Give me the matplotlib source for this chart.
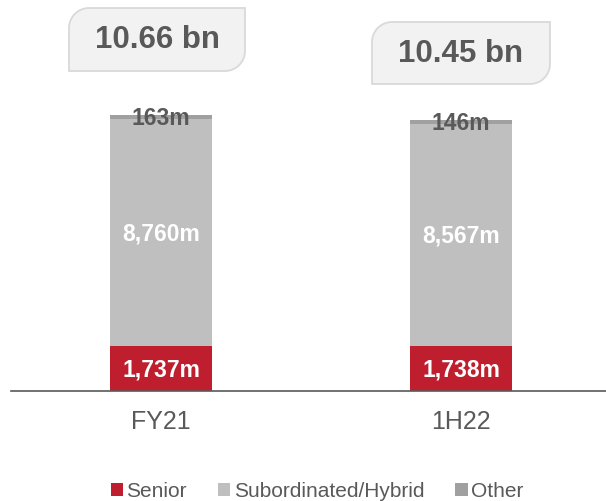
import matplotlib
matplotlib.use("Agg")
import matplotlib.pyplot as plt
from matplotlib.patches import Patch, PathPatch
from matplotlib.path import Path

plt.rcParams['font.family'] = ['Liberation Sans', 'DejaVu Sans']

# data (millions)
periods = ['FY21', '1H22']
senior = [1737, 1738]
subordinated = [8760, 8567]
other = [163, 146]

series_names = ['Senior', 'Subordinated/Hybrid', 'Other']
colors = ['#BE1E2D', '#BFBFBF', '#A0A0A0']
dark = '#595959'

W, H = 606, 502
fig = plt.figure(figsize=(W / 100, H / 100), dpi=100)
ax = fig.add_axes([11 / W, 1 - 392 / H, 1 - 11 / W, 392 / H])

x = list(range(len(periods)))
bw = 0.34
bottom = [0] * len(x)
for vals, col in zip([senior, subordinated, other], colors):
    ax.bar(x, vals, bw, bottom=bottom, color=col, linewidth=0, zorder=2)
    for i, v in enumerate(vals):
        lbl_col = dark if vals is other else 'white'
        ax.text(i, bottom[i] + v / 2, f"{v:,}m", ha='center', va='center',
                fontsize=16.5, fontweight='bold', color=lbl_col, zorder=3)
    bottom = [b + v for b, v in zip(bottom, vals)]

ax.set_xlim(-0.5, 1.4833)
ax.set_ylim(0, 15140)
ax.axhline(0, color=dark, lw=1.2, zorder=4, clip_on=False)
for s in ax.spines.values():
    s.set_visible(False)
ax.set_yticks([])
ax.set_xticks(x)
ax.set_xticklabels(periods, fontsize=18, color=dark)
ax.tick_params(axis='x', length=0, pad=13)


def callout(x0, y0, x1, y1, r=20):
    # image pixel coords (y down) -> figure fraction; rounded top-left and bottom-right
    k = 0.5523 * r
    pts = [
        (x0, y0 + r),
        (x0, y0 + r - k), (x0 + r - k, y0), (x0 + r, y0),
        (x1, y0),
        (x1, y1 - r),
        (x1, y1 - r + k), (x1 - r + k, y1), (x1 - r, y1),
        (x0, y1),
        (x0, y0 + r),
    ]
    codes = [Path.MOVETO,
             Path.CURVE4, Path.CURVE4, Path.CURVE4,
             Path.LINETO, Path.LINETO,
             Path.CURVE4, Path.CURVE4, Path.CURVE4,
             Path.LINETO, Path.CLOSEPOLY]
    verts = [(px / W, 1 - py / H) for px, py in pts]
    p = PathPatch(Path(verts, codes), transform=fig.transFigure,
                  facecolor='#F2F2F2', edgecolor='#D9D9D9', lw=1.3)
    fig.add_artist(p)


boxes = [(69, 9, 245, 72), (372, 23, 550, 85)]
for tot, (bx0, by0, bx1, by1) in zip(bottom, boxes):
    callout(bx0, by0, bx1, by1)
    fig.text((bx0 + bx1) / 2 / W, 1 - (by0 + by1) / 2 / H, f"{tot / 1000:.2f} bn",
             ha='center', va='center', fontsize=22.5, fontweight='bold', color=dark)

handles = [Patch(facecolor=c, edgecolor='none') for c in colors]
fig.legend(handles, series_names, loc='center', bbox_to_anchor=(317 / W, 1 - 492 / H),
           ncol=3, frameon=False, fontsize=15, labelcolor=dark,
           handlelength=0.6, handleheight=0.6, handletextpad=0.15,
           columnspacing=1.5, borderpad=0)

fig.savefig('out.png', dpi=100)
